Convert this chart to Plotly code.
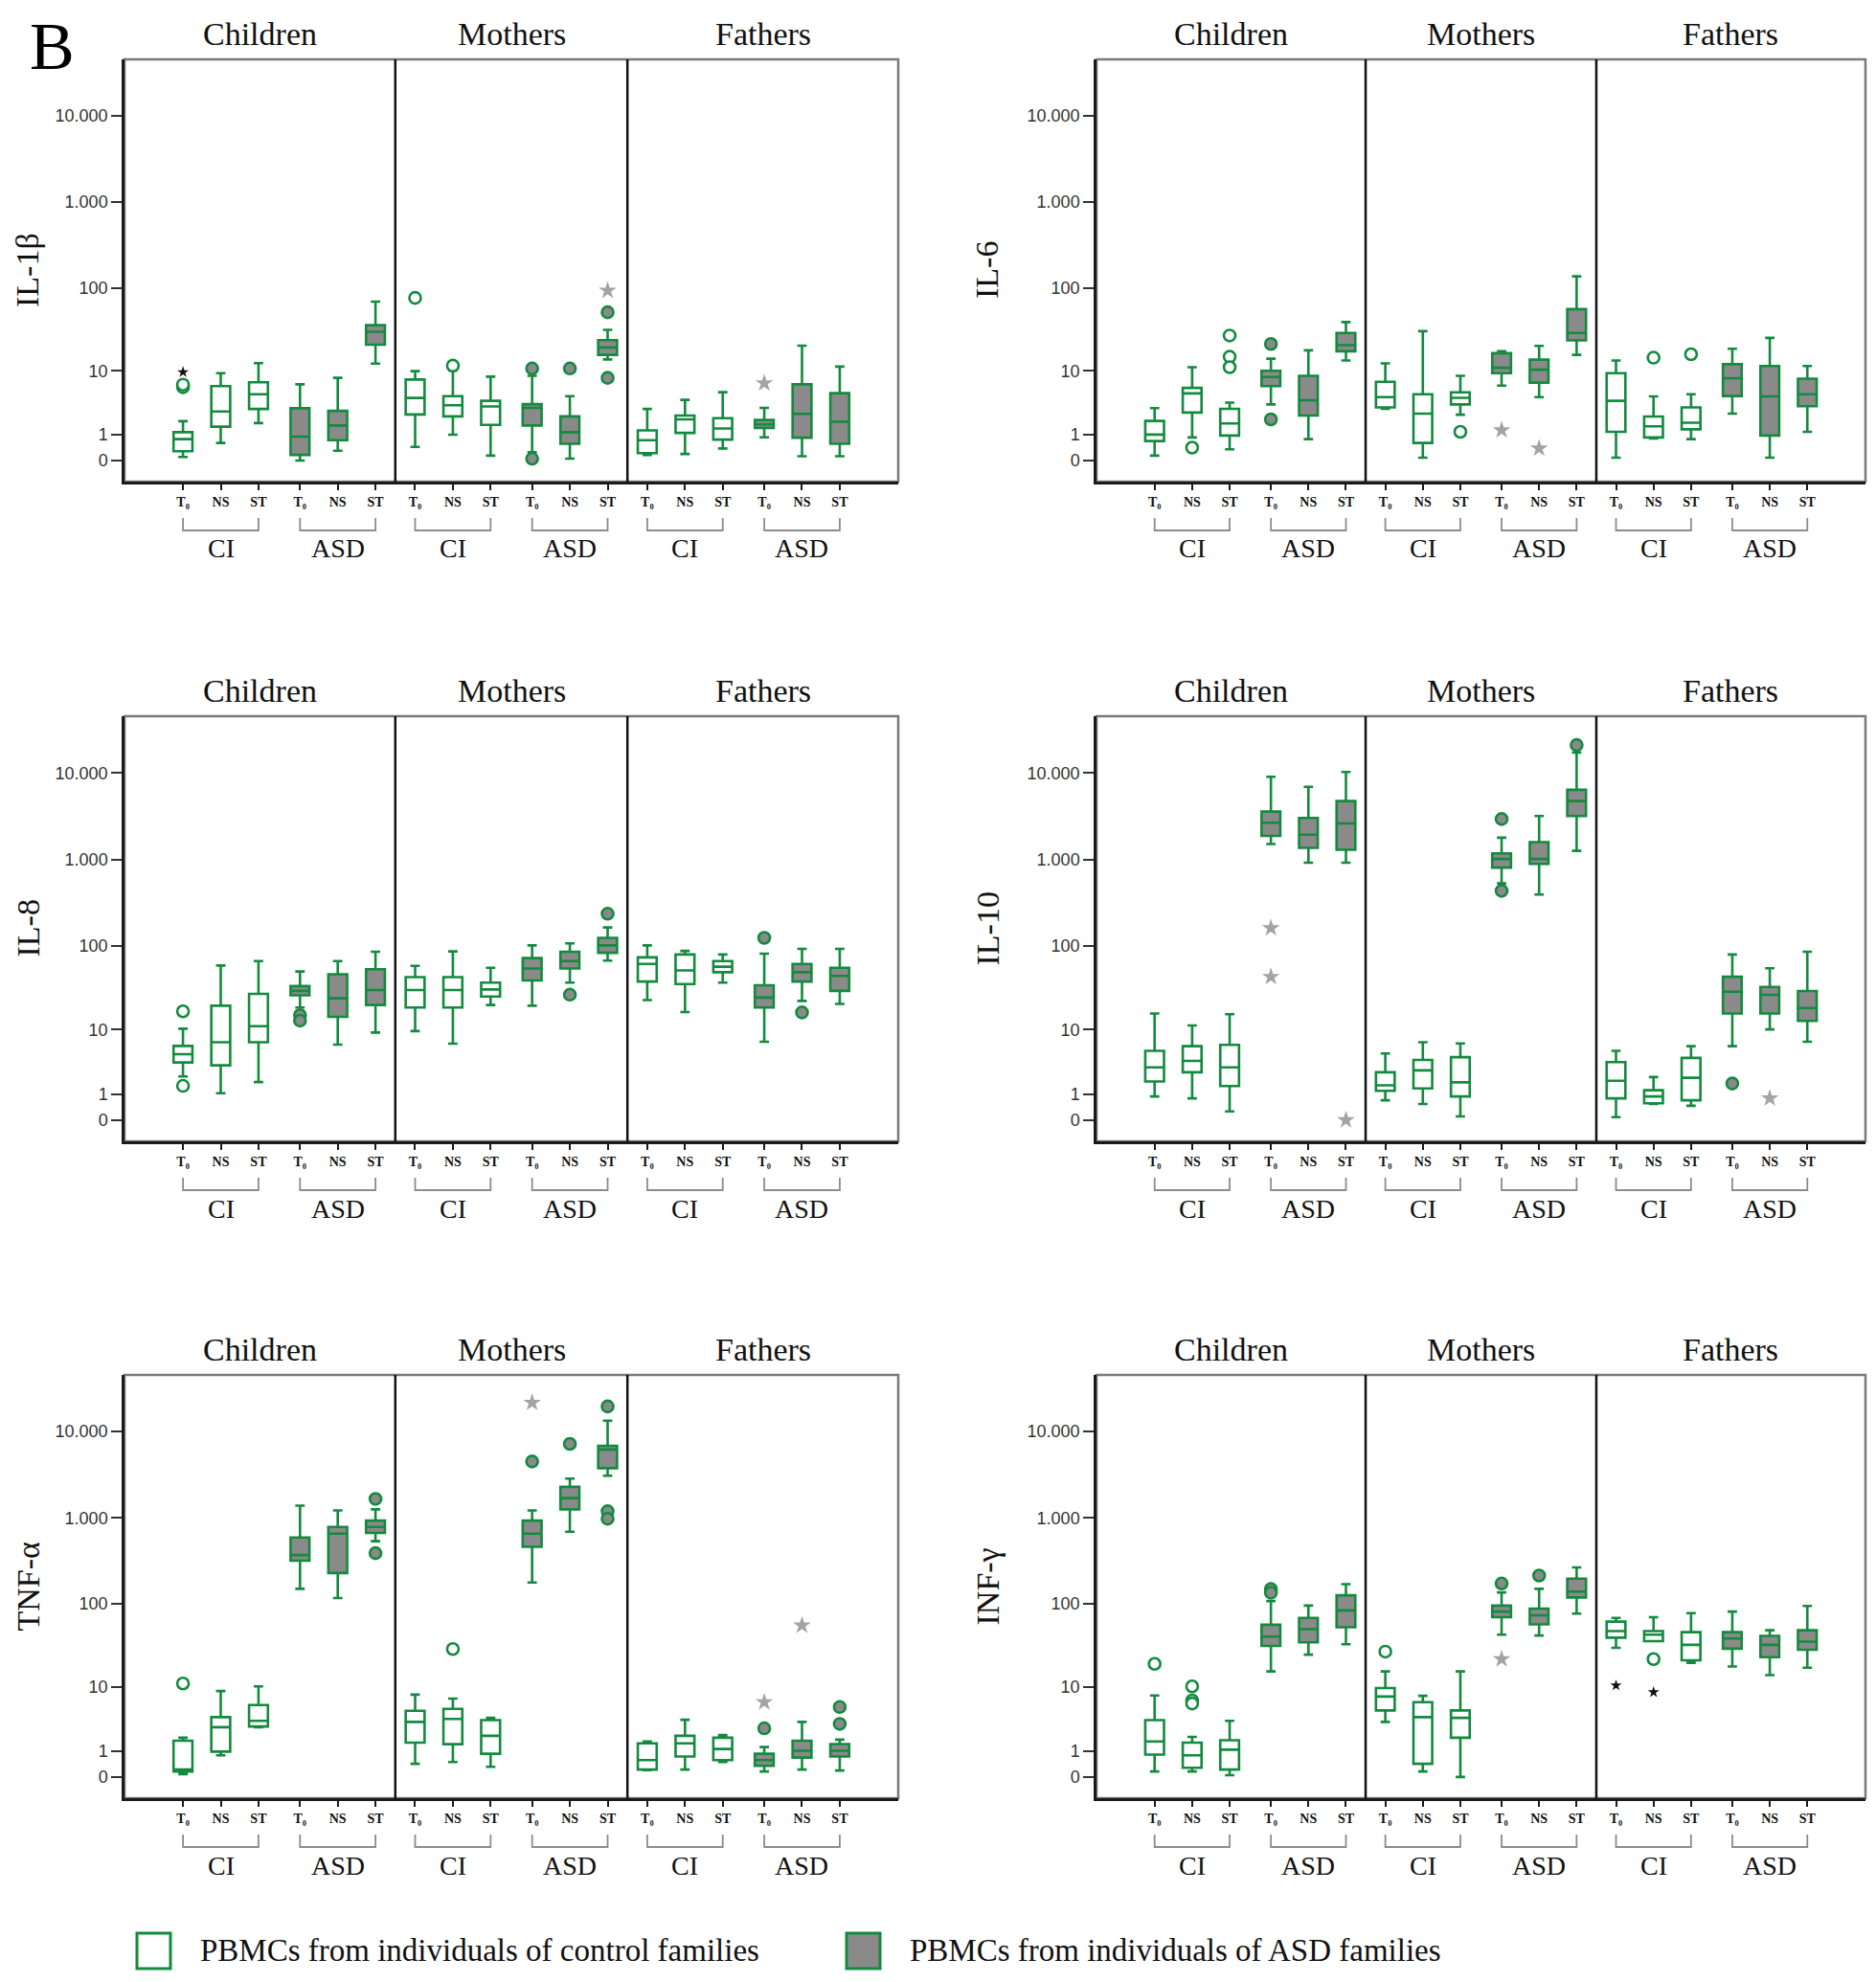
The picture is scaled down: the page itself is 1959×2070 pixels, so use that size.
import numpy as np
import plotly.graph_objects as go

PAGE_W, PAGE_H = 1959, 2070
OFF = 8  # default page body margin around the plot div
W, H = PAGE_W - 2 * OFF, PAGE_H - 2 * OFF - 4

CYTOKINES = ["IL-1β", "IL-6", "IL-8", "IL-10", "TNF-α", "INF-γ"]
SECTIONS = ["Children", "Mothers", "Fathers"]
GROUPS = ["CI", "ASD"]
CONDITIONS = ["T₀", "NS", "ST"]
TICK_VALUES = [0, 1, 10, 100, 1000, 10000]
TICK_LABELS = ["0", "1", "10", "100", "1.000", "10.000"]

# order of the 18 boxes: Children CI T0,NS,ST, Children ASD T0,NS,ST, Mothers ..., Fathers ...
IL1B_LOW = [0.10, 0.60, 1.72, 0.0, 0.30, 12.3, 0.44, 0.99, 0.14, 0.25, 0.05, 13.9, 0.16, 0.19, 0.38, 0.86, 0.12, 0.12]
IL1B_Q1 = [0.28, 1.47, 2.96, 0.16, 0.72, 21.1, 2.42, 2.25, 1.59, 1.55, 0.56, 15.8, 0.22, 1.09, 0.75, 1.38, 0.84, 0.56]
IL1B_MED = [0.77, 2.70, 4.87, 0.89, 1.55, 30.2, 4.32, 3.37, 3.24, 3.08, 1.13, 19.5, 0.72, 2.0, 1.35, 1.62, 2.48, 1.81]
IL1B_Q3 = [1.13, 6.3, 7.1, 3.04, 2.77, 36.2, 7.7, 4.58, 3.92, 3.5, 2.25, 23.9, 1.24, 2.32, 2.1, 1.95, 6.65, 5.04]
IL1B_HIGH = [1.86, 9.3, 12.5, 6.65, 8.1, 68.8, 9.9, 10.1, 8.4, 8.6, 4.58, 31.8, 2.96, 4.06, 5.2, 3.08, 20.5, 11.3]
IL1B_OUT = [(0, 6.1, "o"), (0, 6.6, "o"), (0, 9.6, "k"), (6, 76, "o"), (7, 11.6, "o"), (9, 10.7, "o"),
            (9, 0.05, "o"), (10, 10.7, "o"), (11, 51.5, "o"), (11, 8.1, "o"), (11, 92.8, "s"), (15, 6.9, "s")]

IL6_LOW = [0.14, 0.85, 0.35, 3.47, 0.77, 13.5, 2.97, 0.08, 2.4, 6.4, 4.43, 15.8, 0.08, 0.8, 0.77, 2.5, 0.08, 1.15]
IL6_Q1 = [0.68, 2.6, 0.95, 6.3, 2.33, 17.5, 3.13, 0.6, 3.47, 9.3, 7.0, 23.8, 1.15, 0.85, 1.3, 4.6, 0.95, 3.26]
IL6_MED = [1.0, 5.0, 1.69, 8.3, 4.0, 20.8, 4.43, 2.5, 4.33, 10.9, 10.3, 29.2, 3.93, 1.49, 1.74, 8.0, 4.55, 4.88]
IL6_Q3 = [1.88, 5.95, 2.97, 10.0, 8.6, 29.2, 7.2, 4.88, 5.18, 16.6, 13.8, 56, 9.3, 2.24, 3.13, 12.1, 11.5, 7.9]
IL6_HIGH = [3.05, 11.1, 3.7, 14.2, 18, 39.4, 12.4, 30.7, 8.6, 17.5, 20.4, 136, 13.5, 4.55, 4.88, 18.8, 25.5, 11.5]
IL6_OUT = [(1, 0.41, "o"), (2, 27.2, "o"), (2, 15, "o"), (2, 11.1, "o"), (3, 21.5, "o"), (3, 2.0, "o"),
           (8, 1.15, "o"), (9, 1.25, "s"), (10, 0.38, "s"), (13, 14.6, "o"), (14, 16.1, "o")]

IL8_LOW = [2.18, 1.04, 1.74, 18.8, 6.4, 9.2, 9.6, 6.6, 20.2, 19.8, 37.4, 68, 23.1, 16.6, 37.4, 7.0, 22.6, 20.8]
IL8_Q1 = [3.62, 3.28, 6.9, 26.4, 14.5, 20.2, 18.8, 18.8, 25.6, 39.6, 54.8, 83.6, 38.5, 35.9, 49.6, 18.8, 38.5, 29.8]
IL8_MED = [4.75, 6.9, 11.1, 29.8, 24.3, 30.5, 30.5, 30.5, 31, 54.8, 67, 102, 61.9, 52.1, 57.6, 24.8, 49.6, 44.8]
IL8_Q3 = [6.15, 19.8, 27.5, 34, 47, 53.7, 43.5, 43.5, 37.4, 72.6, 86, 125, 74, 80, 67, 34.8, 61.9, 55.9]
IL8_HIGH = [10.3, 59.4, 67, 50.6, 67, 86, 58.8, 87, 55.9, 102, 108, 165, 102, 88, 80, 81.9, 93, 93]
IL8_OUT = [(0, 16.9, "o"), (0, 1.48, "o"), (3, 15.2, "o"), (3, 13, "o"), (10, 26.9, "o"), (11, 238, "o"),
           (15, 125, "o"), (16, 16.4, "o")]

IL10_LOW = [0.87, 0.78, 0.26, 1517, 924, 924, 0.69, 0.53, 0.1, 534, 396, 1268, 0.08, 0.53, 0.46, 6.1, 10.1, 7.0]
IL10_Q1 = [1.78, 2.56, 1.47, 1887, 1373, 1306, 1.17, 1.32, 0.87, 811, 897, 3190, 0.78, 0.56, 0.69, 15.9, 15.9, 12.9]
IL10_MED = [3.05, 3.8, 3.05, 2670, 1944, 2620, 1.52, 2.74, 1.72, 1020, 1020, 4750, 1.84, 0.87, 2.07, 29.1, 26.8, 18.6]
IL10_Q3 = [5.27, 6.1, 6.35, 3596, 3040, 4750, 2.56, 3.94, 4.3, 1183, 1595, 6400, 3.66, 1.21, 4.2, 43.8, 33.2, 29.7]
IL10_HIGH = [15.9, 11.3, 15.6, 9050, 6930, 10300, 4.85, 6.9, 6.65, 1795, 3190, 17250, 5.27, 2.13, 6.1, 80, 55.2, 86]
IL10_OUT = [(3, 162, "s"), (3, 43.8, "s"), (5, 0, "s"), (9, 2950, "o"), (9, 438, "o"), (11, 21000, "o"),
            (15, 1.64, "o"), (16, 0.78, "s")]

TNFA_LOW = [0.08, 0.78, 2.77, 150, 117, 536, 0.42, 0.49, 0.31, 178, 689, 3080, 0.2, 0.22, 0.49, 0.16, 0.22, 0.19]
TNFA_Q1 = [0.16, 0.97, 2.85, 319, 229, 669, 1.5, 1.4, 0.86, 462, 1255, 3760, 0.22, 0.73, 0.57, 0.35, 0.68, 0.73]
TNFA_MED = [0.22, 2.77, 3.47, 370, 655, 784, 3.34, 3.7, 2.0, 655, 1693, 6190, 0.57, 1.45, 1.11, 0.57, 1.01, 1.01]
TNFA_Q3 = [1.63, 3.93, 5.8, 593, 784, 930, 4.85, 5.15, 3.56, 930, 2285, 6840, 1.45, 2.0, 1.85, 0.86, 1.63, 1.41]
TNFA_HIGH = [1.85, 8.9, 10.2, 1386, 1218, 1255, 7.98, 7.1, 3.84, 1218, 2845, 13370, 1.58, 3.6, 2.06, 1.22, 3.34, 1.71]
TNFA_OUT = [(0, 11.1, "o"), (5, 1658, "o"), (5, 390, "o"), (7, 29.3, "o"), (9, 4500, "o"), (9, 21600, "s"),
            (10, 7190, "o"), (11, 19500, "o"), (11, 1193, "o"), (11, 976, "o"), (15, 2.66, "o"),
            (15, 6.36, "s"), (16, 55.9, "s"), (17, 3.12, "o"), (17, 5.46, "o")]

INFG_LOW = [0.16, 0.16, 0.05, 15.7, 25.1, 33.5, 3.34, 0.16, 0.0, 43.4, 42.5, 77, 30.3, 36.4, 20, 18, 14.1, 17.4]
INFG_Q1 = [0.82, 0.28, 0.22, 31.9, 35.3, 53.2, 4.9, 0.42, 1.85, 69.9, 57.6, 119, 40, 36.4, 21.5, 29.6, 23.4, 28.7]
INFG_MED = [1.58, 0.78, 1.07, 41.2, 50.5, 83.9, 7.55, 3.93, 3.84, 81.3, 73.5, 139, 48, 43.4, 32.9, 39.1, 32.9, 36]
INFG_Q3 = [3.56, 1.5, 1.66, 57, 68.5, 126, 9.7, 6.36, 4.9, 95.6, 88, 197, 61.9, 48, 46.5, 46.5, 42, 49]
INFG_HIGH = [7.8, 1.91, 3.47, 108, 95.6, 170, 15.7, 7.7, 15.7, 136, 150, 266, 68.5, 69.9, 78, 81.4, 49, 94.5]
INFG_OUT = [(0, 19.4, "o"), (1, 10.2, "o"), (1, 6.7, "o"), (1, 6.1, "o"), (3, 149, "o"), (3, 135, "o"),
            (6, 27.3, "o"), (9, 173, "o"), (9, 22.2, "s"), (10, 214, "o"), (12, 10.5, "k"), (13, 22.2, "o"),
            (13, 8.6, "k")]

PANELS = [
    (IL1B_LOW, IL1B_Q1, IL1B_MED, IL1B_Q3, IL1B_HIGH, IL1B_OUT),
    (IL6_LOW, IL6_Q1, IL6_MED, IL6_Q3, IL6_HIGH, IL6_OUT),
    (IL8_LOW, IL8_Q1, IL8_MED, IL8_Q3, IL8_HIGH, IL8_OUT),
    (IL10_LOW, IL10_Q1, IL10_MED, IL10_Q3, IL10_HIGH, IL10_OUT),
    (TNFA_LOW, TNFA_Q1, TNFA_MED, TNFA_Q3, TNFA_HIGH, TNFA_OUT),
    (INFG_LOW, INFG_Q1, INFG_MED, INFG_Q3, INFG_HIGH, INFG_OUT),
]

GREEN = "#138a3e"
GRAY_FILL = "#8a8a8a"
STAR_GRAY = "#a3a3a3"
SERIF = "Liberation Serif"
SANS = "Liberation Sans"


def tr(v):
    return np.log10(np.asarray(v, dtype=float) + 1.0)


def fx(px):  # page pixel x -> paper fraction
    return (px - OFF) / W


def fy(py):  # page pixel y -> paper fraction
    return 1 - (py - OFF) / H


# box positions on each panel's x axis
SEC_STEP, GRP_STEP = 6.15, 3.1
POS = [s * SEC_STEP + g * GRP_STEP + i for s in range(3) for g in range(2) for i in range(3)]
X_RANGE = [POS[0] - 1.55, POS[-1] + 1.55]
DIVIDERS = [(POS[5] + POS[6]) / 2, (POS[11] + POS[12]) / 2]
SEC_BOUNDS = [X_RANGE[0]] + DIVIDERS + [X_RANGE[1]]

# layout geometry (page pixels)
COL_X = [(130, 938), (1145, 1948)]
ROW_Y = [(62, 503), (748, 1192), (1436, 1878)]
YTITLE_LEFT = [8, 1010]  # left edge of the rotated y-title box
Y_RANGE = [-0.245, 4.655]

fig = go.Figure()
layout = dict(
    width=W, height=H, autosize=False,
    margin=dict(l=0, r=0, t=0, b=0),
    paper_bgcolor="white", plot_bgcolor="white",
    showlegend=False, boxmode="overlay",
)
annotations = []
shapes = []

for p, (low, q1, med, q3, high, outs) in enumerate(PANELS):
    n = p + 1
    sfx = "" if n == 1 else str(n)
    xa, ya = "x" + sfx, "y" + sfx
    row, col = p // 2, p % 2
    x0px, x1px = COL_X[col]
    y0px, y1px = ROW_Y[row]
    hpx = y1px - y0px

    layout["xaxis" + sfx] = dict(
        domain=[fx(x0px), fx(x1px)], anchor=ya, range=X_RANGE, fixedrange=True,
        showgrid=False, zeroline=False, showline=True, linecolor="#1a1a1a", linewidth=2.5,
        ticks="outside", ticklen=6, tickwidth=2, tickcolor="#1a1a1a",
        tickvals=POS, ticktext=CONDITIONS * 6,
        tickfont=dict(family=SERIF, size=14, color="#111", weight="bold"),
    )
    layout["yaxis" + sfx] = dict(
        domain=[fy(y1px), fy(y0px)], anchor=xa, range=Y_RANGE, fixedrange=True,
        showgrid=False, zeroline=False, showline=True, linecolor="#1a1a1a", linewidth=2.5,
        ticks="outside", ticklen=11, tickwidth=2, tickcolor="#333",
        tickvals=list(tr(TICK_VALUES)), ticktext=TICK_LABELS,
        tickfont=dict(family=SANS, size=18, color="#333"),
    )

    # boxes: CI (white) and ASD (gray)
    for g in range(2):
        idx = [s * 6 + g * 3 + i for s in range(3) for i in range(3)]
        fig.add_trace(go.Box(
            orientation="v",
            x=[POS[k] for k in idx],
            q1=list(tr([q1[k] for k in idx])),
            median=list(tr([med[k] for k in idx])),
            q3=list(tr([q3[k] for k in idx])),
            lowerfence=list(tr([low[k] for k in idx])),
            upperfence=list(tr([high[k] for k in idx])),
            width=0.5, whiskerwidth=0.5,
            fillcolor="white" if g == 0 else GRAY_FILL,
            line=dict(color=GREEN, width=2.6),
            boxpoints=False, hoverinfo="skip",
            xaxis=xa, yaxis=ya,
        ))

    # outliers
    kinds = {
        "oCI": dict(symbol="circle", size=12, color="white", line=dict(color=GREEN, width=2.6)),
        "oASD": dict(symbol="circle", size=12, color=GRAY_FILL, line=dict(color=GREEN, width=2.6)),
        "s": dict(symbol="star", size=14, color=STAR_GRAY, line=dict(width=0)),
        "k": dict(symbol="star", size=9, color="#111", line=dict(width=0)),
    }
    groups = {}
    for k, v, kind in outs:
        if kind == "o":
            kind = "oCI" if (k // 3) % 2 == 0 else "oASD"
        groups.setdefault(kind, ([], []))
        groups[kind][0].append(POS[k])
        groups[kind][1].append(float(tr(v)))
    for kind, (xs, ys) in groups.items():
        fig.add_trace(go.Scatter(x=xs, y=ys, mode="markers", marker=kinds[kind],
                                 hoverinfo="skip", xaxis=xa, yaxis=ya))

    # frame (gray top/right)
    shapes.append(dict(type="rect", xref=xa + " domain", yref=ya + " domain", x0=0, x1=1, y0=0, y1=1,
                       line=dict(color="#7a7a7a", width=2.5), layer="below"))
    # section dividers
    for d in DIVIDERS:
        shapes.append(dict(type="line", xref=xa, yref=ya + " domain", x0=d, x1=d, y0=0, y1=1,
                           line=dict(color="#111", width=2.5)))
    # section titles
    for s, name in enumerate(SECTIONS):
        annotations.append(dict(text=name, xref=xa, yref=ya + " domain",
                                x=(SEC_BOUNDS[s] + SEC_BOUNDS[s + 1]) / 2, y=1 + 27 / hpx,
                                xanchor="center", yanchor="middle", showarrow=False,
                                font=dict(family=SERIF, size=34, color="#111")))
    # group brackets and labels
    ya_top, ya_bot = -38 / hpx, -51 / hpx
    for s in range(3):
        for g in range(2):
            a = POS[s * 6 + g * 3]
            b = POS[s * 6 + g * 3 + 2]
            shapes.append(dict(type="path", xref=xa, yref=ya + " domain",
                               path=f"M {a},{ya_top} L {a},{ya_bot} L {b},{ya_bot} L {b},{ya_top}",
                               line=dict(color="#8c8c8c", width=1.8)))
            annotations.append(dict(text=GROUPS[g], xref=xa, yref=ya + " domain",
                                    x=POS[s * 6 + g * 3 + 1], y=-70 / hpx,
                                    xanchor="center", yanchor="middle", showarrow=False,
                                    font=dict(family=SERIF, size=28, color="#111")))
    # y-axis title
    annotations.append(dict(text=CYTOKINES[p], xref="paper", yref=ya + " domain",
                            x=fx(YTITLE_LEFT[col]), y=0.5, textangle=-90,
                            xanchor="left", yanchor="middle", showarrow=False,
                            font=dict(family=SERIF, size=34, color="#111")))

# panel letter
annotations.append(dict(text="B", xref="paper", yref="paper", x=fx(54), y=1,
                        xanchor="center", yanchor="top", showarrow=False,
                        font=dict(family=SERIF, size=70, color="#000")))

# legend
LEGEND_ITEMS = [
    ("PBMCs from individuals of control families", "white", 143, 207),
    ("PBMCs from individuals of ASD families", GRAY_FILL, 884, 948),
]
for text, fill, sx, tx in LEGEND_ITEMS:
    shapes.append(dict(type="rect", xref="paper", yref="paper",
                       x0=fx(sx), x1=fx(sx + 35), y0=fy(2056), y1=fy(2019),
                       fillcolor=fill, line=dict(color=GREEN, width=3)))
    annotations.append(dict(text=text, xref="paper", yref="paper", x=fx(tx), y=fy(2037),
                            xanchor="left", yanchor="middle", showarrow=False,
                            font=dict(family=SERIF, size=33, color="#111")))

layout["annotations"] = annotations
layout["shapes"] = shapes
fig.update_layout(**layout)
fig.write_html("out.html")
